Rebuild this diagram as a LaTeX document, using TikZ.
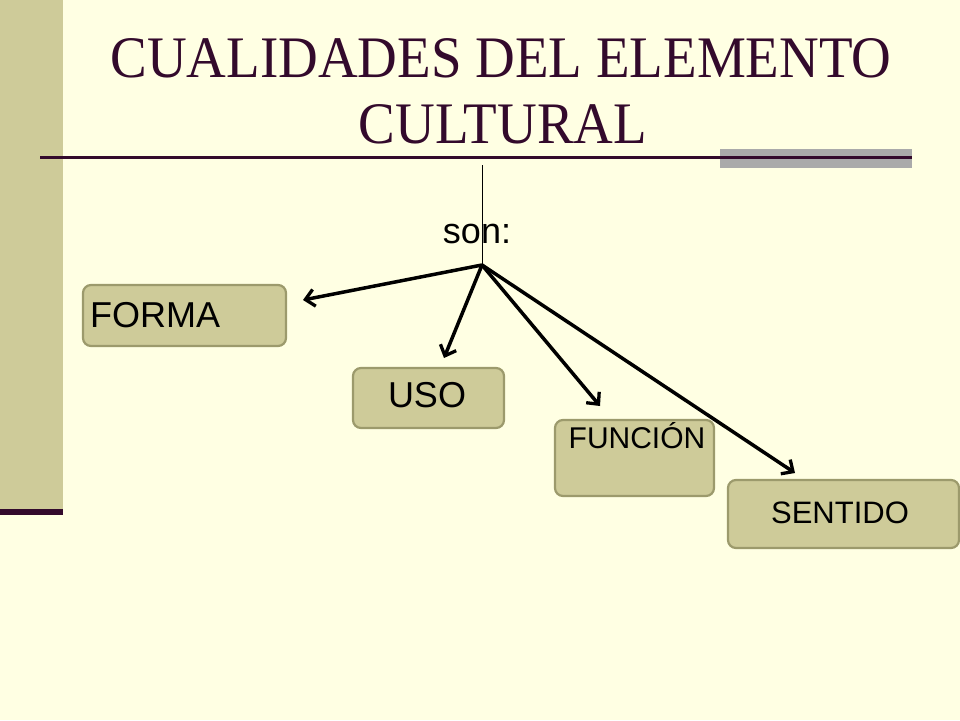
\documentclass[tikz,border=0pt]{standalone}
\usepackage{fontspec}
\setmainfont{Liberation Serif}
\newfontfamily\arialf{Liberation Sans}
\usetikzlibrary{arrows.meta}
\definecolor{bgc}{HTML}{FFFFE3}
\definecolor{barc}{HTML}{CECB99}
\definecolor{darkp}{HTML}{330A2C}
\definecolor{grayr}{HTML}{AAAAAA}
\definecolor{boxfill}{HTML}{CECB99}
\definecolor{boxline}{HTML}{9C9A6C}
\tikzset{
  boxshape/.style={draw=boxline, fill=boxfill, line width=2.2pt, rounded corners=8pt, inner sep=0pt},
  boxtext/.style={anchor=base, inner sep=0pt, font=\arialf\fontsize{36}{40}\selectfont},
  titletext/.style={anchor=base, inner sep=0pt, text=darkp, font=\fontsize{55}{60}\selectfont},
  arr/.style={line width=3.5pt, -{Straight Barb[length=9pt,width=17pt,line width=3.3pt]}},
}
\begin{document}
\begin{tikzpicture}[x=1pt,y=-1pt]
\useasboundingbox (0,0) rectangle (960,720);
\fill[bgc] (0,0) rectangle (960,720);
\fill[barc] (0,0) rectangle (63,512);
\fill[darkp] (0,509) rectangle (63,515);
% title
\node[titletext] (t1) at (501,77) {\scalebox{1}[1.07]{CUALIDADES DEL ELEMENTO}};
\node[titletext] (t2) at (503,143) {\scalebox{1}[1.07]{CULTURAL}};
\fill[grayr] (720,149) rectangle (912,168);
\draw[darkp, line width=3pt] (40,157) -- (912,157);
% vertical line and hub
\coordinate (top) at (482,165);
\coordinate (hub) at (482,265);
\draw[black, line width=1pt] (top) -- (hub);
\node[boxtext] (son) at (477,243) {son:};
% boxes
\node[boxshape, minimum width=203pt, minimum height=61pt] (forma) at (184.5,315.5) {};
\node[anchor=base west, inner sep=0pt, font=\arialf\fontsize{36}{40}\selectfont] (format) at (90,327) {FORMA};
\node[boxshape, minimum width=151pt, minimum height=60pt] (uso) at (428.5,398) {};
\node[boxtext] (usot) at (427,407) {USO};
\node[boxshape, minimum width=159pt, minimum height=76pt] (funcion) at (634.5,458) {};
\node[boxtext, font=\arialf\fontsize{30}{34}\selectfont] (funciont) at (637,448) {FUNCIÓN};
\node[boxshape, minimum width=231pt, minimum height=68pt] (sentido) at (843.5,514) {};
\node[boxtext, font=\arialf\fontsize{31}{34}\selectfont] (sentidot) at (840,523) {SENTIDO};
% arrow tips
\coordinate (ef) at (303,300);
\coordinate (eu) at (444,358);
\coordinate (efu) at (600,406);
\coordinate (es) at (795,473);
\draw[arr] (hub) -- (ef);
\draw[arr] (hub) -- (eu);
\draw[arr] (hub) -- (efu);
\draw[arr] (hub) -- (es);
\end{tikzpicture}
\end{document}
